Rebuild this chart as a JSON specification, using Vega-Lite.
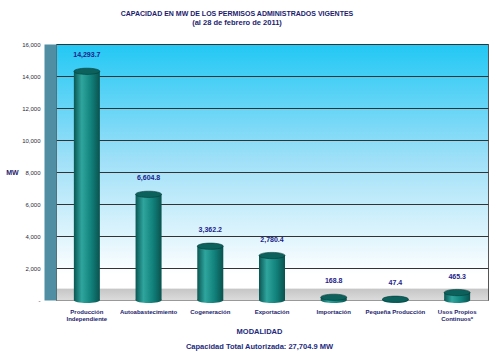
{
  "$schema": "https://vega.github.io/schema/vega-lite/v6.json",
  "width": 432,
  "height": 256,
  "autosize": {"type": "none"},
  "padding": {"left": 56, "top": 44, "right": 12, "bottom": 56},
  "background": "white",
  "config": {
    "font": "Liberation Sans",
    "view": {
      "stroke": "#555555",
      "strokeWidth": 1,
      "fill": {
        "gradient": "linear", "x1": 0, "y1": 0, "x2": 0, "y2": 1,
        "stops": [
          {"offset": 0, "color": "#22c8f4"},
          {"offset": 0.45, "color": "#9fe0f8"},
          {"offset": 0.9, "color": "#ffffff"},
          {"offset": 0.952, "color": "#ffffff"},
          {"offset": 0.955, "color": "#c6c6c6"},
          {"offset": 1, "color": "#dcdcdc"}
        ]
      }
    }
  },
  "title": {
    "text": "CAPACIDAD EN MW DE LOS PERMISOS ADMINISTRADOS VIGENTES",
    "subtitle": "(al 28 de febrero de 2011)",
    "fontSize": 7,
    "subtitleFontSize": 7.5,
    "fontWeight": "bold",
    "subtitleFontWeight": "bold",
    "color": "#1c1c6e",
    "subtitleColor": "#1c1c6e",
    "subtitlePadding": 2,
    "anchor": "middle",
    "dx": -35,
    "offset": 15
  },
  "data": {
    "values": [
      {"modalidad": "Producción Independiente", "mw": 14293.7},
      {"modalidad": "Autoabastecimiento", "mw": 6604.8},
      {"modalidad": "Cogeneración", "mw": 3362.2},
      {"modalidad": "Exportación", "mw": 2780.4},
      {"modalidad": "Importación", "mw": 168.8},
      {"modalidad": "Pequeña Producción", "mw": 47.4},
      {"modalidad": "Usos Propios Continuos*", "mw": 465.3}
    ]
  },
  "encoding": {
    "x": {
      "field": "modalidad",
      "type": "nominal",
      "sort": null,
      "scale": {"paddingInner": 0, "paddingOuter": 0},
      "axis": {
        "labelAngle": 0,
        "labelExpr": "datum.label == 'Producción Independiente' ? ['Producción', 'Independiente'] : datum.label == 'Usos Propios Continuos*' ? ['Usos Propios', 'Continuos*'] : datum.label",
        "labelFontSize": 6,
        "labelFontWeight": "bold",
        "labelColor": "#1c1c6e",
        "labelLineHeight": 7,
        "labelPadding": 8,
        "tickSize": 0,
        "domainColor": "#999999",
        "title": ["MODALIDAD", "Capacidad Total Autorizada: 27,704.9 MW"],
        "titleFontSize": 7.5,
        "titleFontWeight": "bold",
        "titleColor": "#1c2a7e",
        "titleLineHeight": 15,
        "titleX": 203,
        "titleY": 27,
        "titleBaseline": "top"
      }
    },
    "y": {
      "field": "mw",
      "type": "quantitative",
      "scale": {"domain": [0, 16000]},
      "axis": {
        "values": [0, 2000, 4000, 6000, 8000, 10000, 12000, 14000, 16000],
        "labelExpr": "datum.value == 0 ? '-' : format(datum.value, ',')",
        "labelFontSize": 6,
        "labelColor": "#2a2a3a",
        "tickSize": 0,
        "labelPadding": 10,
        "offset": 6,
        "domainColor": "#4f8ea3",
        "domainWidth": 12,
        "gridColor": "#333333",
        "gridWidth": 1,
        "title": "MW",
        "titleAngle": 0,
        "titleFontSize": 7,
        "titleFontWeight": "bold",
        "titleColor": "#1c1c6e",
        "titleX": -38,
        "titleY": 128,
        "titleAlign": "center",
        "titleBaseline": "middle"
      }
    }
  },
  "layer": [
    {
      "mark": {
        "type": "bar",
        "width": 26,
        "color": {
          "gradient": "linear", "x1": 0, "y1": 0, "x2": 1, "y2": 0,
          "stops": [
            {"offset": 0, "color": "#0a5652"},
            {"offset": 0.3, "color": "#2fa59e"},
            {"offset": 0.65, "color": "#12837d"},
            {"offset": 1, "color": "#0a524e"}
          ]
        }
      }
    },
    {
      "mark": {
        "type": "point",
        "shape": "M-1,0A1,0.24,0,1,0,1,0A1,0.24,0,1,0,-1,0Z",
        "size": 676,
        "filled": true,
        "opacity": 1,
        "color": {
          "gradient": "linear", "x1": 0, "y1": 0, "x2": 1, "y2": 0,
          "stops": [
            {"offset": 0, "color": "#0a5652"},
            {"offset": 0.3, "color": "#2fa59e"},
            {"offset": 0.65, "color": "#12837d"},
            {"offset": 1, "color": "#0a524e"}
          ]
        }
      },
      "encoding": {"y": {"datum": 0}}
    },
    {
      "mark": {
        "type": "point",
        "shape": "M-1,0A1,0.24,0,1,0,1,0A1,0.24,0,1,0,-1,0Z",
        "size": 676,
        "filled": true,
        "opacity": 1,
        "color": "#0c615c",
        "stroke": "#053a37",
        "strokeWidth": 0.6
      }
    },
    {
      "mark": {
        "type": "text",
        "dy": -16,
        "fontSize": 7,
        "fontWeight": "bold",
        "color": "#1c1c8a"
      },
      "encoding": {"text": {"field": "mw", "type": "quantitative", "format": ",.1f"}}
    }
  ]
}
